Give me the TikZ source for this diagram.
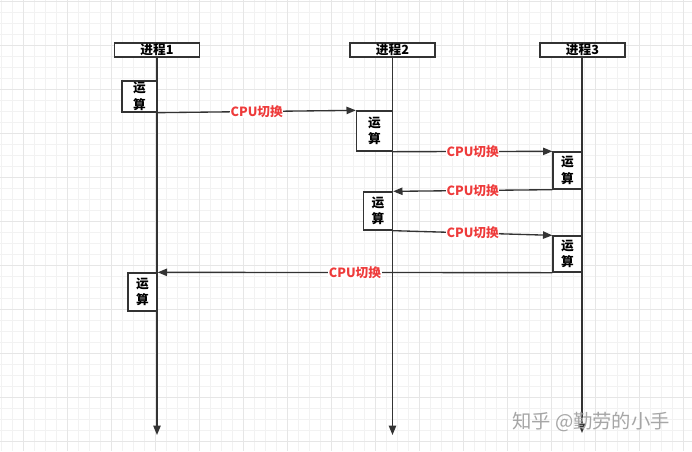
\documentclass[tikz,border=0pt]{standalone}
\usepackage{fontspec}
\setmainfont{Noto Sans CJK SC}
\usepackage{xcolor}
\usepackage{tikz}
\usetikzlibrary{positioning, arrows.meta}
\definecolor{lineC}{HTML}{333333}
\definecolor{cpuRed}{HTML}{EE3B3B}
\definecolor{gridMinor}{HTML}{F2F2F2}
\definecolor{gridMajor}{HTML}{E6E6E6}
\definecolor{markGray}{HTML}{A6A6A6}

\begin{document}
\begin{tikzpicture}[
    x=0.75pt, y=-0.75pt,
    font=\fontsize{9.5}{12.5}\selectfont\bfseries,
    proc/.style={rectangle, draw=lineC, line width=1pt, fill=white, inner sep=0pt, minimum width=63.75pt, minimum height=10.5pt},
    work/.style={rectangle, draw=lineC, line width=1pt, fill=white, inner sep=0pt, minimum width=21.75pt, align=center},
    life/.style={-{Triangle[length=7pt, width=5.5pt]}, draw=lineC, line width=1pt},
    msg/.style={-{Triangle[length=7pt, width=5.5pt]}, draw=lineC, line width=1pt},
    cpu/.style={text=cpuRed, fill=white, inner sep=0.5pt}
]
\useasboundingbox (0,0) rectangle (692,451);
\foreach \gx in {1,12,...,692} \draw[gridMinor, line width=0.6pt] (\gx,0) -- (\gx,451);
\foreach \gy in {1,12,...,451} \draw[gridMinor, line width=0.6pt] (0,\gy) -- (692,\gy);
\foreach \gx in {23,67,...,692} \draw[gridMajor, line width=0.6pt] (\gx,0) -- (\gx,451);
\foreach \gy in {1,45,...,451} \draw[gridMajor, line width=0.6pt] (0,\gy) -- (692,\gy);

\node[proc] (head1) at (157,50) {进程1};
\node[proc] (head2) at (392.5,50) {进程2};
\node[proc] (head3) at (582.5,50) {进程3};

\coordinate (end1) at (157,435);
\coordinate (end2) at (392.5,435);
\coordinate (end3) at (582,433);
\draw[life] (head1.south) -- (end1);
\draw[life] (head2.south) -- (end2);
\draw[life] (head3.south -| end3) -- (end3);

\node[work, minimum width=26.25pt, minimum height=23.25pt] (run1) at (139.5,96.5) {运\\算};
\node[work, minimum width=27pt, minimum height=30pt] (run2) at (374.5,131) {运\\算};
\node[work, minimum height=27.75pt] (run3) at (567.5,170.5) {运\\算};
\node[work, minimum height=28.5pt] (run4) at (378,211) {运\\算};
\node[work, minimum height=27pt] (run5) at (567.5,254) {运\\算};
\node[work, minimum height=28.5pt] (run6) at (142.5,292) {运\\算};

\draw[msg] (run1.south east) -- node[cpu] {CPU切换} (run2.north west);
\draw[msg] (run2.south east) -- node[cpu] {CPU切换} (run3.north west);
\draw[msg] (run3.south west) -- node[cpu] {CPU切换} (run4.north east);
\draw[msg] (run4.south east) -- node[cpu] {CPU切换} (run5.north west);
\draw[msg] (run5.south west) -- node[cpu] {CPU切换} (run6.north east);

\node[text=markGray, font=\fontsize{14.5}{16}\selectfont] (mark) at (591,422) {知乎 @勤劳的小手};
\end{tikzpicture}
\end{document}
